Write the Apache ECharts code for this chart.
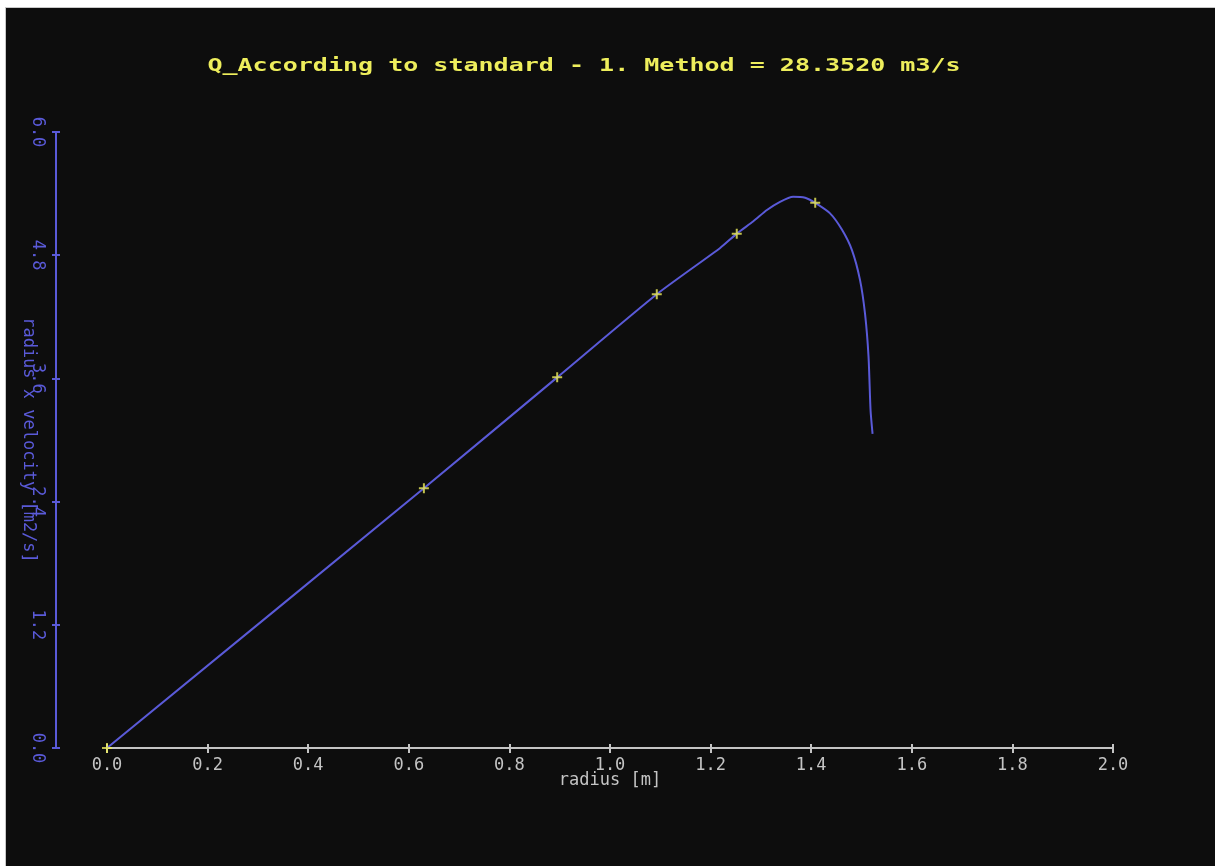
<!DOCTYPE html>
<html>
<head>
<meta charset="utf-8">
<script src="https://cdn.jsdelivr.net/npm/echarts@6/dist/echarts.min.js"></script>
<style>
  html, body { margin: 0; padding: 0; background: #ffffff; }
  #chart {
    position: absolute; left: 5px; top: 7px;
    width: 1210px; height: 859px;
    background: #0d0d0d;
    border-top: 1px solid #c8c8c8; border-left: 1px solid #c8c8c8;
    box-sizing: border-box;
  }
</style>
</head>
<body>
<div id="chart"></div>
<script>
// curve: radius [m] vs radius x velocity [m2/s]
const curveR = [0, 0.630, 0.895, 1.093, 1.219, 1.252, 1.285, 1.312, 1.338, 1.364, 1.388, 1.408, 1.437, 1.461, 1.481, 1.497, 1.507, 1.514, 1.518, 1.522];
const curveV = [0, 2.53, 3.61, 4.42, 4.87, 5.01, 5.13, 5.24, 5.32, 5.37, 5.36, 5.31, 5.21, 5.05, 4.85, 4.56, 4.23, 3.81, 3.29, 3.06];
// measured points (yellow crosses)
const pointR = [0, 0.630, 0.895, 1.093, 1.252, 1.408];
const pointV = [0, 2.53, 3.61, 4.42, 5.01, 5.31];

const titleText = "Q_According to standard - 1. Method = 28.3520 m3/s";
const xName = "radius [m]";
const yName = "radius x velocity [m2/s]";

const mono = "DejaVu Sans Mono";
const blue = "#5a5ad8";
const grey = "#c4c4c4";
const yellow = "#eeee5c";
const plus = "path://M4,0H6V4H10V6H6V10H4V6H0V4H4Z";

let myChart = echarts.init(document.getElementById("chart"));

const option = {
  backgroundColor: "#0d0d0d",
  animation: false,
  graphic: [
    {
      type: "text",
      x: 578,
      y: 58,
      scaleX: 1.39,
      style: {
        text: titleText,
        fill: yellow,
        font: "bold 18px " + mono,
        textAlign: "center",
        textVerticalAlign: "middle",
      },
    },
  ],
  grid: {
    left: 101,
    right: 102,
    top: 124,
    bottom: 118,
    outerBoundsMode: "none",
  },
  xAxis: [
    {
      type: "value",
      min: 0,
      max: 2,
      interval: 0.2,
      name: xName,
      nameLocation: "middle",
      nameGap: 24,
      nameMoveOverlap: false,
      nameTextStyle: { color: grey, fontFamily: mono, fontSize: 17 },
      axisLine: { onZero: false, lineStyle: { color: grey, width: 2 } },
      axisTick: { length: 5, lineStyle: { color: grey, width: 2 } },
      axisLabel: {
        color: grey,
        fontFamily: mono,
        fontSize: 17,
        margin: 9,
        formatter: (v) => v.toFixed(1),
      },
      splitLine: { show: false },
    },
    {
      type: "value",
      position: "bottom",
      min: 0,
      max: 2,
      interval: 0.2,
      axisLine: { show: false, onZero: false },
      axisTick: { show: true, inside: true, length: 4, lineStyle: { color: grey, width: 2 } },
      axisLabel: { show: false },
      splitLine: { show: false },
    },
  ],
  yAxis: [
    {
      type: "value",
      min: 0,
      max: 6,
      interval: 1.2,
      offset: 51,
      name: yName,
      nameLocation: "middle",
      nameRotate: -90,
      nameGap: 19,
      nameMoveOverlap: false,
      nameTextStyle: { color: blue, fontFamily: mono, fontSize: 17 },
      axisLine: { show: true, onZero: false, lineStyle: { color: blue, width: 2 } },
      axisTick: { show: true, length: 4, lineStyle: { color: blue, width: 2 } },
      axisLabel: {
        color: blue,
        fontFamily: mono,
        fontSize: 17,
        rotate: -90,
        margin: 10,
        formatter: (v) => v.toFixed(1),
      },
      splitLine: { show: false },
    },
    {
      type: "value",
      position: "left",
      min: 0,
      max: 6,
      interval: 1.2,
      offset: 51,
      axisLine: { show: false, onZero: false },
      axisTick: { show: true, inside: true, length: 4, lineStyle: { color: blue, width: 2 } },
      axisLabel: { show: false },
      splitLine: { show: false },
    },
  ],
  series: [
    {
      name: "curve",
      type: "line",
      smooth: 0.2,
      showSymbol: false,
      lineStyle: { color: blue, width: 2 },
      data: curveR.map((r, i) => [r, curveV[i]]),
      z: 2,
    },
    {
      name: "points",
      type: "scatter",
      symbol: plus,
      symbolSize: 10,
      itemStyle: { color: yellow },
      data: pointR.map((r, i) => [r, pointV[i]]),
      z: 3,
    },
  ],
};
myChart.setOption(option);
</script>
</body>
</html>
